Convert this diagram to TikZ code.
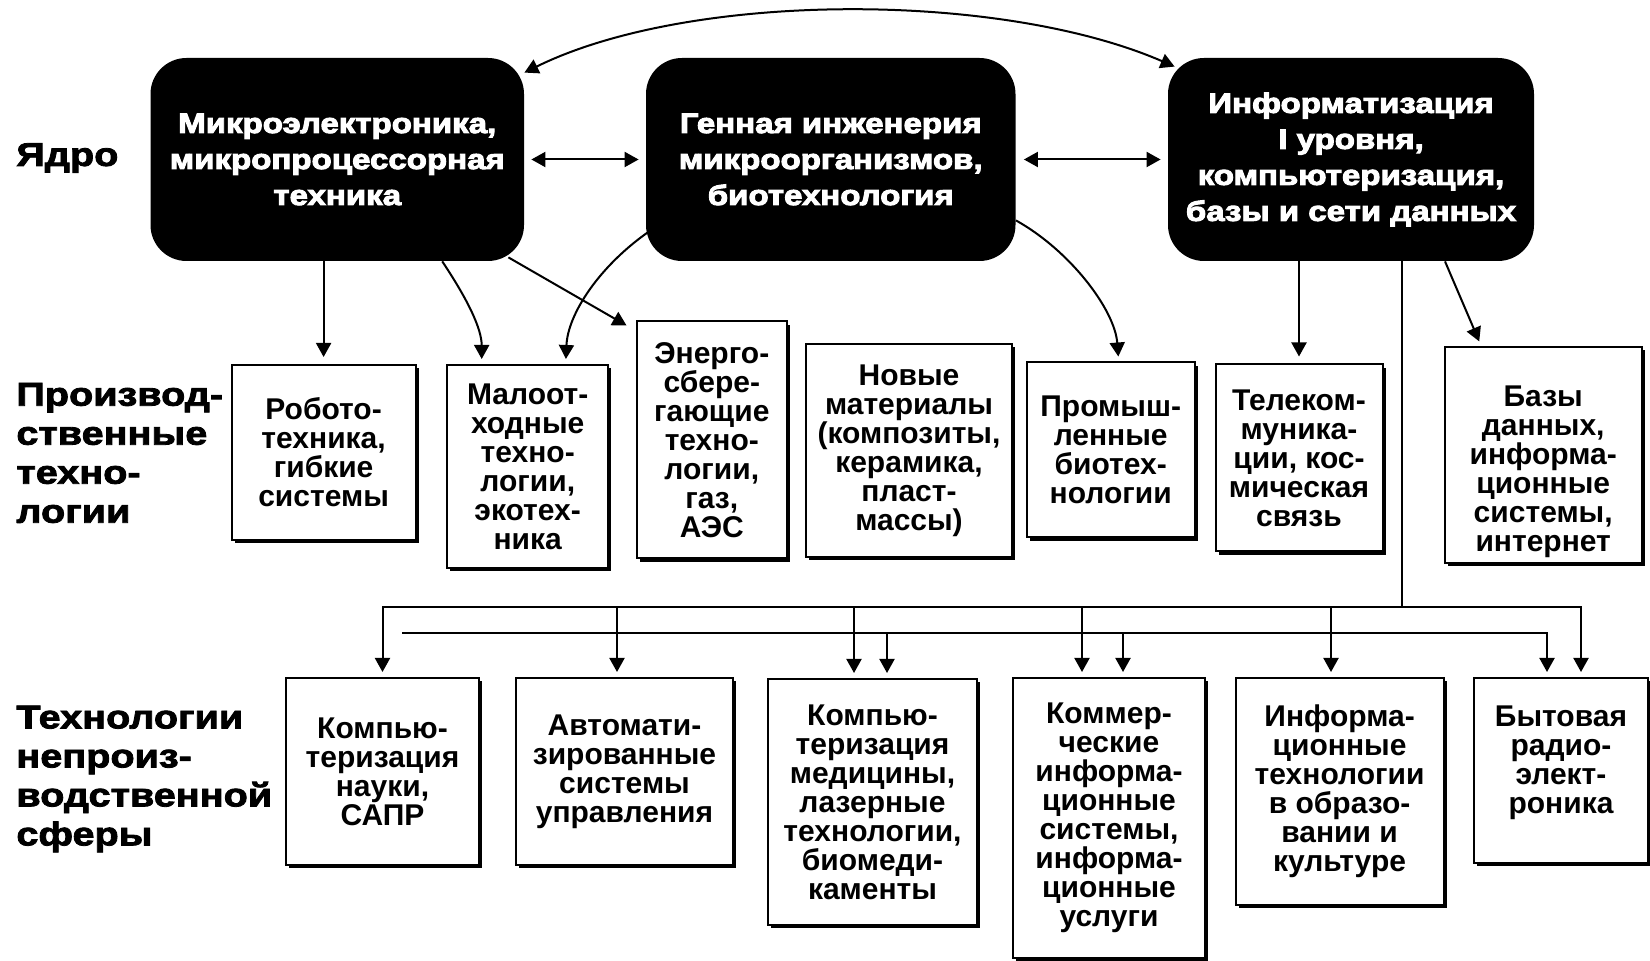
\documentclass[tikz,border=0pt]{standalone}
\usepackage{fontspec}
\setmainfont{Liberation Sans}
\newfontfamily\bxfont{Liberation Sans Bold}
\newfontfamily\lblfont[FakeStretch=1.2,FakeBold=2.5]{Liberation Sans Bold}
\newfontfamily\topfont[FakeStretch=1.18,FakeBold=3.5]{Liberation Sans Bold}
\usetikzlibrary{arrows.meta,shadows}
\begin{document}
\begin{tikzpicture}[x=0.5pt,y=-0.5pt,
  core/.style={fill=black, rounded corners=18pt, text=white, align=center,
    font=\topfont\fontsize{14}{18}\selectfont, minimum height=101.5pt, inner sep=0pt},
  tbox/.style={draw=black, line width=1pt, fill=white, align=center, inner sep=0pt,
    font=\bxfont\fontsize{15}{14.5}\selectfont,
    drop shadow={shadow xshift=1.6pt, shadow yshift=-1.6pt, fill=black, opacity=1}},
  lbl/.style={anchor=west, align=left, inner sep=0pt,
    font=\lblfont\fontsize{16.5}{19.5}\selectfont},
  ln/.style={line width=1pt},
  arr/.style={ln, -{Triangle[length=7pt,width=7.5pt]}},
  dbl/.style={ln, {Triangle[length=7pt,width=7.5pt]}-{Triangle[length=7pt,width=7.5pt]}}
]
\useasboundingbox (0,0) rectangle (1650,961);

% core
\node[core, minimum width=186.75pt] (b1) at (337.25,159.5) {Микроэлектроника,\\микропроцессорная\\техника};
\node[core, minimum width=184.75pt] (b2) at (830.75,159.5) {Генная инженерия\\микроорганизмов,\\биотехнология};
\node[core, minimum width=183pt] (b3) at (1351,159.5) {Информатизация\\I уровня,\\компьютеризация,\\базы и сети данных};

% labels
\node[lbl] (l1) at (16,158) {Ядро};
\node[lbl] (l2) at (16,453) {Производ-\\ственные\\техно-\\логии};
\node[lbl] (l3) at (16,779) {Технологии\\непроиз-\\водственной\\сферы};

% row 2
\node[tbox, minimum width=92pt, minimum height=87.5pt] (r1) at (323.6,452.5) {Робото-\\техника,\\гибкие\\системы};
\node[tbox, minimum width=80.5pt, minimum height=101.5pt] (r2) at (527.7,466.5) {Малоот-\\ходные\\техно-\\логии,\\экотех-\\ника};
\node[tbox, minimum width=75.25pt, minimum height=118.5pt] (r3) at (711.8,440) {Энерго-\\сбере-\\гающие\\техно-\\логии,\\газ,\\АЭС};
\node[tbox, minimum width=103pt, minimum height=106.5pt] (r4) at (909,450.5) {Новые\\материалы\\(композиты,\\керамика,\\пласт-\\массы)};
\node[tbox, minimum width=84pt, minimum height=87.5pt] (r5) at (1110.7,450) {Промыш-\\ленные\\биотех-\\нологии};
\node[tbox, minimum width=83.5pt, minimum height=93.5pt] (r6) at (1299,458) {Телеком-\\муника-\\ции, кос-\\мическая\\связь};
\node[tbox, minimum width=98.5pt, minimum height=108pt] (r7) at (1543.2,455) {\rule{0pt}{27pt}Базы\\данных,\\информа-\\ционные\\системы,\\интернет};

% row 3
\node[tbox, minimum width=96.5pt, minimum height=93.5pt] (c1) at (382.5,771.5) {Компью-\\теризация\\науки,\\САПР};
\node[tbox, minimum width=108.5pt, minimum height=93.5pt] (c2) at (624.5,771.5) {Автомати-\\зированные\\системы\\управления};
\node[tbox, minimum width=104.5pt, minimum height=123pt] (c3) at (872.5,802) {Компью-\\теризация\\медицины,\\лазерные\\технологии,\\биомеди-\\каменты};
\node[tbox, minimum width=96pt, minimum height=140pt] (c4) at (1109,818) {Коммер-\\ческие\\информа-\\ционные\\системы,\\информа-\\ционные\\услуги};
\node[tbox, minimum width=104pt, minimum height=113.5pt] (c5) at (1339.6,791.5) {Информа-\\ционные\\технологии\\в образо-\\вании и\\культуре};
\node[tbox, minimum width=87pt, minimum height=92.5pt] (c6) at (1561,770.5) {Бытовая\\радио-\\элект-\\роника\rule[-11pt]{0pt}{0pt}};

% core links
\draw[dbl, shorten <=3.5pt, shorten >=3.5pt] (b1.east) -- (b2.west);
\draw[dbl, shorten <=4pt, shorten >=3.5pt] (b2.east) -- (b3.west);
\draw[dbl] ([shift={(0,15)}]b1.north east) .. controls (690,-9) and (1000,-9) .. ([shift={(7,9)}]b3.north west);

% core -> production
\draw[arr, shorten >=3.5pt] (r1.north |- b1.south) -- (r1.north);
\draw[arr, shorten >=2.5pt] ([xshift=52.5pt]b1.south) .. controls +(26,39) and +(0,-35) .. ([xshift=-23pt]r2.north);
\draw[arr] ([shift={(-16,-4)}]b1.south east) -- ([shift={(-9,5)}]r3.north west);
\draw[arr, shorten >=2.5pt] ([shift={(5,-31)}]b2.south west) .. controls +(-51,35) and +(2,-50) .. ([xshift=19pt]r2.north);
\draw[arr, shorten >=2.5pt] ([shift={(0,-41)}]b2.south east) .. controls +(54,30) and +(-4,-52) .. ([xshift=4pt]r5.north);
\draw[arr, shorten >=3.5pt] (r6.north |- b3.south) -- (r6.north);
\draw[arr, shorten >=2.5pt] ([xshift=47pt]b3.south) -- ([xshift=-31pt]r7.north);

% bus
\coordinate (bus1) at (1402,607);
\coordinate (bus2) at (402,633);
\coordinate (d2) at ([xshift=-3.75pt]c2.north);
\coordinate (d3a) at ([xshift=-9.25pt]c3.north);
\coordinate (d3b) at ([xshift=7.25pt]c3.north);
\coordinate (d4a) at ([xshift=-13.5pt]c4.north);
\coordinate (d4b) at ([xshift=7pt]c4.north);
\coordinate (d5) at ([xshift=-4.3pt]c5.north);
\coordinate (d6a) at ([xshift=-7pt]c6.north);
\coordinate (d6b) at ([xshift=10pt]c6.north);

\draw[ln] ([xshift=25.5pt]b3.south) -- (bus1);
\draw[arr, shorten >=2.5pt] (bus1) -| (c1.north);
\draw[arr, shorten >=2.5pt] (bus1) -| (d6b);
\draw[arr, shorten >=2.5pt] (bus2) -| (d6a);
\foreach \d in {d2,d3a,d4a,d5}{
  \draw[arr, shorten >=2.5pt] (\d |- bus1) -- (\d);
}
\foreach \d in {d3b,d4b}{
  \draw[arr, shorten >=2.5pt] (\d |- bus2) -- (\d);
}
\end{tikzpicture}
\end{document}
